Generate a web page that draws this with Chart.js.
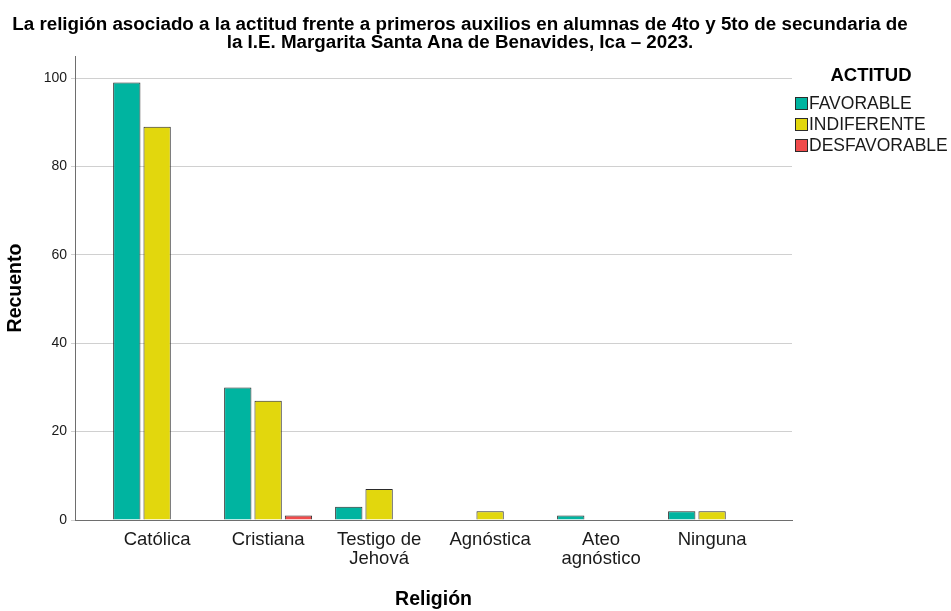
<!DOCTYPE html>
<html>
<head>
<meta charset="utf-8">
<script src="https://cdn.jsdelivr.net/npm/chart.js@4"></script>
<style>
  html, body { margin: 0; padding: 0; background: #fff; }
  #wrap { width: 951px; height: 611px; }
</style>
</head>
<body>
<div id="wrap"><canvas id="myChart" width="951" height="611"></canvas></div>
<script>
const religiones = ['Católica', 'Cristiana', ['Testigo de', 'Jehová'], 'Agnóstica', ['Ateo', 'agnóstico'], 'Ninguna'];
const favorable = [99, 30, 3, 0, 1, 2];
const indiferente = [89, 27, 7, 2, 0, 2];
const desfavorable = [0, 1, 0, 0, 0, 0];
const yTicks = [0, 20, 40, 60, 80, 100];
const titulo = ['La religión asociado a la actitud frente a primeros auxilios en alumnas de 4to y 5to de secundaria de',
                'la I.E. Margarita Santa Ana de Benavides, Ica – 2023.'];

const FONT = '"Liberation Sans", Arial, sans-serif';
const positions = religiones.map((_, i) => i);

const chartData = {
  labels: positions,
  datasets: [
    { label: 'FAVORABLE', data: favorable, backgroundColor: '#00b4a0' },
    { label: 'INDIFERENTE', data: indiferente, backgroundColor: '#e2d70d' },
    { label: 'DESFAVORABLE', data: desfavorable, backgroundColor: '#f04b4b' }
  ]
};
chartData.datasets.forEach(ds => {
  ds.borderColor = '#2b2b2b';
  ds.borderWidth = 1;
  ds.borderSkipped = 'start';
  ds.categoryPercentage = 0.82;
  ds.barPercentage = 0.9;
});

// title and legend drawn by hand: the title is centred off the canvas middle
// and the legend boxes sit almost touching their text
const sideTexts = {
  id: 'sideTexts',
  afterDraw(chart) {
    const ctx = chart.ctx;
    ctx.save();
    ctx.fillStyle = '#000';
    ctx.textAlign = 'center';
    ctx.textBaseline = 'alphabetic';
    ctx.font = 'bold 18.8px ' + FONT;
    ctx.fillText(titulo[0], 460, 30);
    ctx.fillText(titulo[1], 460, 48);

    ctx.textBaseline = 'middle';
    ctx.font = 'bold 18.5px ' + FONT;
    ctx.fillText('ACTITUD', 871, 76);
    ctx.textAlign = 'left';
    ctx.font = '17.5px ' + FONT;
    chart.data.datasets.forEach((ds, i) => {
      const y = 97 + i * 21;
      ctx.fillStyle = ds.backgroundColor;
      ctx.fillRect(795, y, 13, 13);
      ctx.strokeStyle = '#2b2b2b';
      ctx.lineWidth = 1;
      ctx.strokeRect(795.5, y + 0.5, 12, 12);
      ctx.fillStyle = '#1a1a1a';
      ctx.fillText(ds.label, 809, y + 7);
    });
    ctx.restore();
  }
};

const chartConfig = {
  type: 'bar',
  data: chartData,
  plugins: [sideTexts],
  options: {
    responsive: false,
    animation: false,
    layout: { padding: { left: 4, right: 159, bottom: 0, top: 56 } },
    plugins: {
      tooltip: { enabled: false },
      legend: { display: false },
      title: { display: false }
    },
    scales: {
      x: {
        type: 'linear',
        offset: false,
        min: -0.74,
        max: 5.72,
        grid: { display: false, drawTicks: false, tickLength: 0 },
        border: { display: true, color: '#6e6e6e', width: 1 },
        afterBuildTicks: s => { s.ticks = positions.map(v => ({ value: v })); },
        afterFit: s => { s.height = 91; },
        ticks: {
          color: '#1a1a1a',
          font: { family: FONT, size: 18.5, lineHeight: 1.0 },
          padding: 11,
          maxRotation: 0,
          autoSkip: false,
          callback: v => religiones[v]
        },
        title: {
          display: true,
          text: 'Religión',
          color: '#000',
          font: { family: FONT, size: 19.5, weight: 'bold', lineHeight: 1.2 },
          padding: { top: 0, bottom: 0 }
        }
      },
      y: {
        min: 0,
        max: 105,
        afterBuildTicks: s => { s.ticks = yTicks.map(v => ({ value: v })); },
        afterFit: s => { s.width = 71; },
        grid: { color: '#d0d0d0', lineWidth: 1, tickLength: 4 },
        border: { display: true, color: '#6e6e6e', width: 1 },
        ticks: {
          color: '#1a1a1a',
          font: { family: FONT, size: 14 },
          padding: 4
        },
        title: {
          display: true,
          text: 'Recuento',
          color: '#000',
          font: { family: FONT, size: 19.5, weight: 'bold' },
          padding: { top: 0, bottom: 0 }
        }
      }
    }
  }
};

const chartCanvas = document.getElementById('myChart');
const myChart = new Chart(chartCanvas.getContext('2d'), chartConfig);
</script>
</body>
</html>
